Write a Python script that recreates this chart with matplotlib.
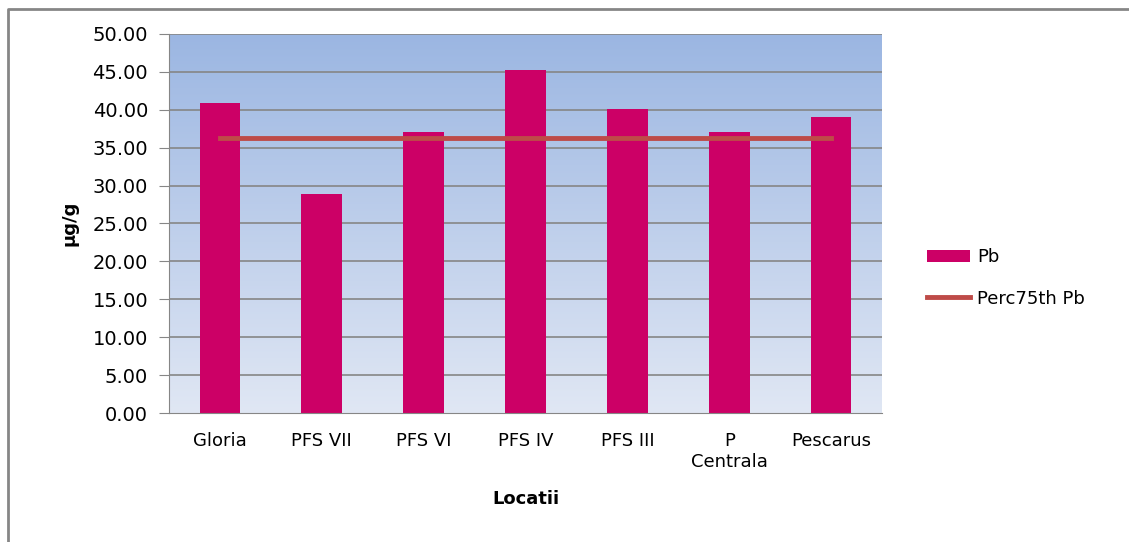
import numpy as np
import matplotlib.pyplot as plt
from matplotlib.lines import Line2D
from matplotlib.colors import LinearSegmentedColormap

# date
locatii = ['Gloria', 'PFS VII', 'PFS VI', 'PFS IV', 'PFS III', 'P\nCentrala', 'Pescarus']
pb = [40.9, 28.9, 37.1, 45.2, 40.1, 37.1, 39.0]
perc75 = [36.3] * len(locatii)

fig = plt.figure(figsize=(11.29, 5.42), dpi=100)
ax = fig.add_axes([0.1497, 0.238, 0.6315, 0.6993])

# chenar exterior (doar stanga si sus se vad)
fig.lines.append(Line2D([8 / 1129, 8 / 1129, 1], [0, 533 / 542, 533 / 542],
                        transform=fig.transFigure, color='#868686', linewidth=2))

# fundal gradient
cmap = LinearSegmentedColormap.from_list('bg', ['#E0E7F4', '#9BB6E2'])
grad = np.linspace(0, 1, 256).reshape(-1, 1)
x = np.arange(len(locatii))
ax.imshow(grad, cmap=cmap, aspect='auto', origin='lower',
          extent=[-0.5, len(locatii) - 0.5, 0, 50], zorder=0)

for y in np.arange(5, 51, 5):
    ax.axhline(y, color='#868686', linewidth=1.2, zorder=1)

bars = ax.bar(x, pb, width=0.4, color='#CC0066', label='Pb', zorder=2)
line, = ax.plot(x, perc75, color='#BE4B48', linewidth=3.5, label='Perc75th Pb', zorder=3)

ax.set_xlim(-0.5, len(locatii) - 0.5)
ax.set_ylim(0, 50)
ax.set_yticks(np.arange(0, 51, 5))
ax.set_yticklabels([f'{v:.2f}' for v in np.arange(0, 51, 5)], fontsize=14)
ax.set_xticks(x)
ax.set_xticklabels(locatii, fontsize=13, linespacing=1.15)
ax.tick_params(axis='y', length=7, color='#868686', pad=8)
ax.tick_params(axis='x', length=0, pad=14)

for s in ['top', 'right']:
    ax.spines[s].set_visible(False)
ax.spines['left'].set_color('#868686')
ax.spines['bottom'].set_color('#868686')

ax.set_ylabel('µg/g', fontsize=13, fontweight='bold', labelpad=10)
ax.set_xlabel('Locatii', fontsize=13, fontweight='bold', labelpad=14)

ax.legend([bars, line], ['Pb', 'Perc75th Pb'], loc='center left', bbox_to_anchor=(1.04, 0.356),
          frameon=False, fontsize=13, handlelength=2.4, labelspacing=1.3, handletextpad=0.4)

fig.savefig('out.png', dpi=100)
